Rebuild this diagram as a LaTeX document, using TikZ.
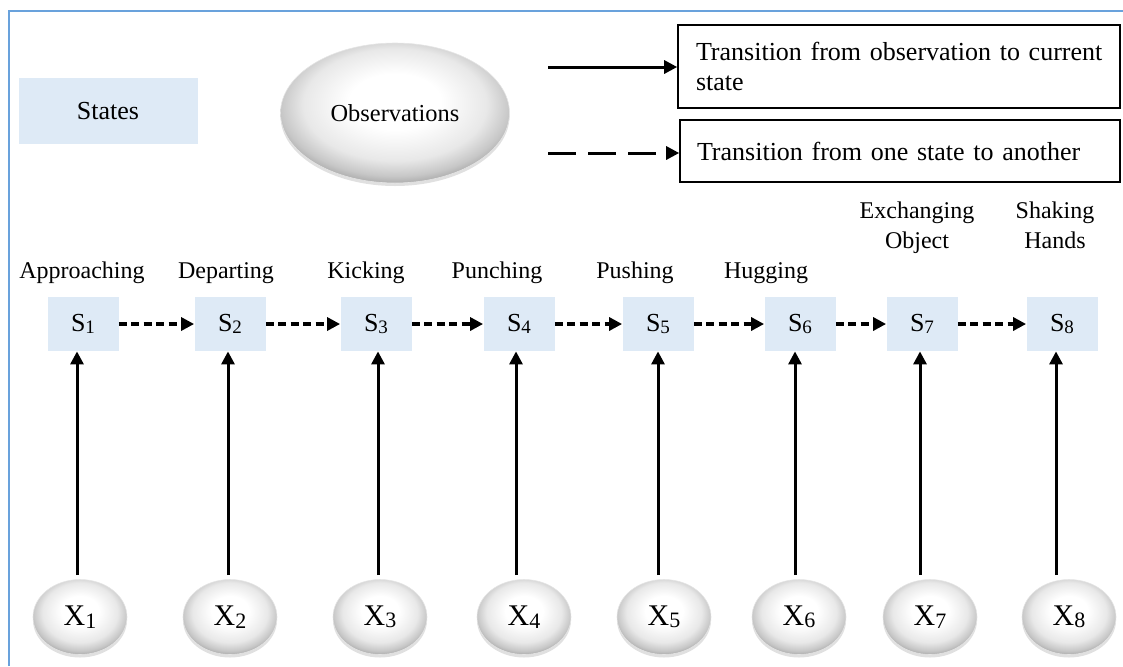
\documentclass[tikz,border=0pt]{standalone}
\usepackage{fontspec}
\setmainfont{Liberation Serif}
\usetikzlibrary{arrows.meta,shapes.geometric,shadows}
\definecolor{stateblue}{RGB}{222,234,246}
\definecolor{frameblue}{RGB}{105,162,220}
\pgfdeclareradialshading{obsshade}{\pgfpoint{0bp}{5bp}}{%
  color(0bp)=(white); color(10bp)=(white); color(20bp)=(black!9);
  color(25bp)=(black!22); color(28bp)=(black!35); color(50bp)=(black!35)}
\newcommand{\mysubS}[1]{{\fontsize{9.5}{9.5}\selectfont\raisebox{-1.2pt}{#1}}}
\newcommand{\mysubX}[1]{{\fontsize{11}{11}\selectfont\raisebox{-1.2pt}{#1}}}
\begin{document}
\begin{tikzpicture}[x=0.5pt,y=-0.5pt,
  framepen/.style={draw=frameblue,line width=1pt},
  statebox/.style={fill=stateblue,minimum width=35.5pt,minimum height=27pt,inner sep=0pt,font=\fontsize{13}{15}\selectfont},
  obsnode/.style={ellipse,shading=obsshade,draw=black!10,line width=0.3pt,
     drop shadow={shadow xshift=0pt,shadow yshift=-1.5pt,opacity=0.2,fill=black!60},
     minimum width=47pt,minimum height=37.5pt,inner sep=0pt,font=\fontsize{15}{17}\selectfont},
  actlabel/.style={anchor=base,align=center,inner sep=0pt,font=\fontsize{12}{15}\selectfont},
  legbox/.style={draw,line width=0.8pt,align=left,font=\fontsize{13}{15}\selectfont},
  solidarrow/.style={-{Triangle[length=6.5pt,width=6.5pt]},line width=1.5pt},
  legdash/.style={-{Triangle[length=6.5pt,width=6.5pt]},line width=1.5pt,dash pattern=on 14pt off 6pt},
  statedash/.style={-{Triangle[length=6.5pt,width=6.5pt]},line width=1.6pt,dash pattern=on 4pt off 2.2pt}
]
\useasboundingbox (0,0) rectangle (1123,666);
% frame
\draw[framepen] (9,666) -- (9,11) -- (1123,11);

% legend
\node[fill=stateblue,minimum width=89.5pt,minimum height=33pt,font=\fontsize{13}{15}\selectfont] (legS) at (108,111) {States};
\node[obsnode,minimum width=114.5pt,minimum height=70pt,font=\fontsize{12.2}{15}\selectfont] (legO) at (395,113) {Observations};
\node[legbox,minimum width=221pt,minimum height=41.5pt,inner xsep=9pt,text width=203pt] (legB1) at (899,66.5)
  {\mbox{Transition from observation to current}\\state};
\node[legbox,minimum width=220pt,minimum height=31pt,inner xsep=8.5pt,text width=203pt] (legB2) at (900,151)
  {Transition from one state to another};
\coordinate (la1) at (548,67);
\coordinate (la2) at (548,153);
\draw[solidarrow] (la1) -- (la1 -| legB1.west);
\draw[legdash] (la2) -- (la2 -| legB2.west);

% states
\node[statebox] (S1) at (83,324) {S\mysubS{1}};
\node[statebox] (S2) at (230,324) {S\mysubS{2}};
\node[statebox] (S3) at (376,324) {S\mysubS{3}};
\node[statebox] (S4) at (519,324) {S\mysubS{4}};
\node[statebox] (S5) at (658,324) {S\mysubS{5}};
\node[statebox] (S6) at (800,324) {S\mysubS{6}};
\node[statebox] (S7) at (922,324) {S\mysubS{7}};
\node[statebox] (S8) at (1062,324) {S\mysubS{8}};

% action labels
\node[actlabel] (L1) at (82,278) {Approaching};
\node[actlabel] (L2) at (226,278) {Departing};
\node[actlabel] (L3) at (366,278) {Kicking};
\node[actlabel] (L4) at (497,278) {Punching};
\node[actlabel] (L5) at (635,278) {Pushing};
\node[actlabel] (L6) at (766,278) {Hugging};
\node[actlabel] (L7) at (917,248) {Exchanging\\Object};
\node[actlabel] (L8) at (1055,248) {Shaking\\Hands};

% observations
\node[obsnode] (X1) at (80,617) {X\mysubX{1}};
\node[obsnode] (X2) at (230,617) {X\mysubX{2}};
\node[obsnode] (X3) at (380,617) {X\mysubX{3}};
\node[obsnode] (X4) at (524,617) {X\mysubX{4}};
\node[obsnode] (X5) at (664,617) {X\mysubX{5}};
\node[obsnode] (X6) at (799,617) {X\mysubX{6}};
\node[obsnode] (X7) at (930,617) {X\mysubX{7}};
\node[obsnode] (X8) at (1069,617) {X\mysubX{8}};

% state transitions
\foreach \a/\b in {1/2,2/3,3/4,4/5,5/6,6/7,7/8}
  \draw[statedash] (S\a.east) -- (S\b.west);

% observation to state
\foreach \i/\dx in {1/-6,2/-2,3/2,4/-3,5/0,6/-5,7/-2,8/-6}
  \draw[solidarrow,shorten <=2pt] ([xshift=\dx*0.5pt]S\i.south |- X\i.north) -- ([xshift=\dx*0.5pt]S\i.south);
\end{tikzpicture}
\end{document}
